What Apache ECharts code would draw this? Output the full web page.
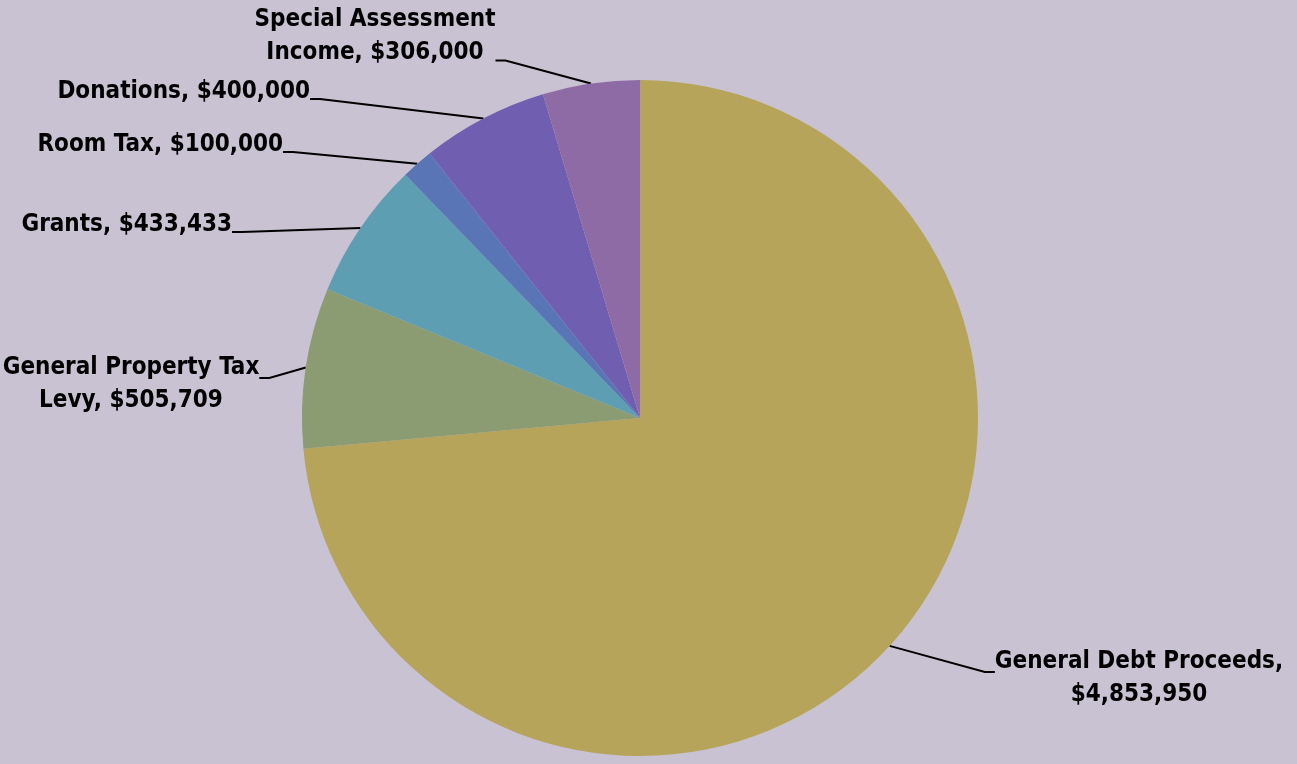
<!DOCTYPE html>
<html>
<head>
<meta charset="utf-8">
<script src="https://cdn.jsdelivr.net/npm/echarts@6/dist/echarts.min.js"></script>
<style>
  html, body { margin: 0; padding: 0; background: #C9C2D2; }
  #chart { width: 1297px; height: 764px; }
</style>
</head>
<body>
<div id="chart"></div>
<script>
// Revenue sources, in slice order (clockwise from 12 o'clock)
const categories = [
  'General Debt Proceeds',
  'General Property Tax Levy',
  'Grants',
  'Room Tax',
  'Donations',
  'Special Assessment Income'
];
const amounts = [4853950, 505709, 433433, 100000, 400000, 306000];
const sliceColors = ['#B6A45A', '#8B9B72', '#5E9EB2', '#5A75B5', '#705EB0', '#8F6BA6'];
// Word that starts the second label line (null = single line)
const wrapBefore = ['$', 'Levy', null, null, null, 'Income'];

const FONT = "'Liberation Sans Narrow', 'DejaVu Sans Condensed', 'Arial Narrow', sans-serif";

function labelText(i) {
  let t = categories[i] + ', $' + amounts[i].toLocaleString('en-US');
  if (wrapBefore[i]) {
    const k = t.indexOf(' ' + wrapBefore[i]);
    t = t.slice(0, k) + '\n' + t.slice(k + 1);
  }
  return t;
}

// Label placement around the pie
const labelPlace = [
  { x: 1139, y: 632.5, align: 'center', padding: [13, 0, 0, 0] },
  { x: 131,  y: 338.5, align: 'center', padding: [13, 0, 0, 0] },
  { x: 232,  y: 208.5, align: 'right',  padding: [0, 0, 14, 0] },
  { x: 283,  y: 128.5, align: 'right',  padding: [0, 0, 14, 0] },
  { x: 310,  y: 75.5,  align: 'right',  padding: [0, 0, 14, 0] },
  { x: 375,  y: 3.5,   align: 'center', padding: [0, 0, 48, 0] }
];

const chart = echarts.init(document.getElementById('chart'));
chart.setOption({
  backgroundColor: '#C9C2D2',
  animation: false,
  series: [{
    type: 'pie',
    center: [640, 418],
    radius: 338,
    startAngle: 90,
    clockwise: true,
    avoidLabelOverlap: false,
    itemStyle: { borderWidth: 0 },
    data: categories.map((name, i) => ({
      name: name,
      value: amounts[i],
      itemStyle: { color: sliceColors[i] },
      label: { padding: labelPlace[i].padding }
    })),
    label: {
      show: true,
      position: 'outside',
      formatter: p => labelText(p.dataIndex),
      color: '#000',
      fontFamily: FONT,
      fontWeight: 'bold',
      fontSize: 24,
      lineHeight: 33
    },
    labelLine: {
      show: true,
      length: 20,
      length2: 10,
      lineStyle: { color: '#000', width: 2 }
    },
    labelLayout: function (params) {
      const p = labelPlace[params.dataIndex];
      return { x: p.x, y: p.y, align: p.align, verticalAlign: 'top' };
    },
    emphasis: { disabled: true }
  }]
});
</script>
</body>
</html>
